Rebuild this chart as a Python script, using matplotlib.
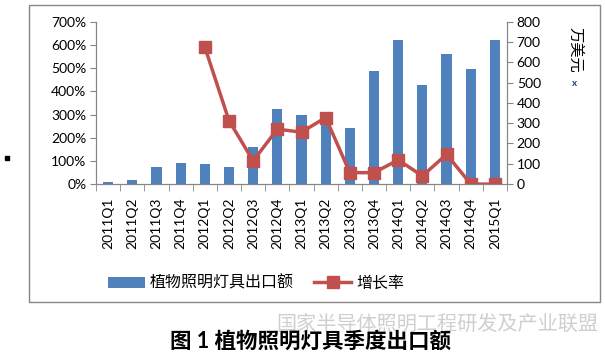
import numpy as np
import matplotlib.pyplot as plt
from matplotlib.patches import Rectangle

plt.rcParams['font.family'] = ['Lato', 'Noto Sans CJK SC', 'DejaVu Sans']

# 季度
quarters = ['2011Q1', '2011Q2', '2011Q3', '2011Q4',
            '2012Q1', '2012Q2', '2012Q3', '2012Q4',
            '2013Q1', '2013Q2', '2013Q3', '2013Q4',
            '2014Q1', '2014Q2', '2014Q3', '2014Q4', '2015Q1']
# 出口额（万美元）
export_value = [11, 20, 85, 105, 100, 85, 184, 372, 341, 345, 277, 559,
                713, 490, 644, 569, 713]
# 增长率（%）
growth = [np.nan, np.nan, np.nan, np.nan, 592, 274, 100, 237, 224, 287,
          49, 49, 104, 35, 128, 0, -1]

bar_color = '#4F81BD'
line_color = '#C0504D'
grey = '#868686'

fig = plt.figure(figsize=(6.05, 3.58), dpi=100)

# 外框
fig.patches.append(Rectangle((29 / 605, 1 - 302 / 358), 571 / 605, 297 / 358,
                             transform=fig.transFigure, fill=False,
                             edgecolor=grey, lw=1))
fig.patches.append(Rectangle((5 / 605, 1 - 160 / 358), 4 / 605, 4 / 358,
                             transform=fig.transFigure, color='black'))

ax = fig.add_axes([96 / 605, 1 - 184 / 358, 411 / 605, 162 / 358])
ax_bar = ax.twinx()
ax.set_zorder(2)
ax.patch.set_visible(False)
ax_bar.set_zorder(1)

x = np.arange(len(quarters))
bars = ax_bar.bar(x, export_value, width=0.42, color=bar_color,
                  label='植物照明灯具出口额')
line, = ax.plot(x, growth, color=line_color, lw=2.5, marker='s',
                markersize=9, label='增长率')

ax.set_xlim(-0.5, len(quarters) - 0.5)
ax.set_ylim(0, 700)
ax_bar.set_ylim(0, 800)
ax.set_yticks(np.arange(0, 701, 100))
ax.set_yticklabels([f'{v}%' for v in range(0, 701, 100)])
ax_bar.set_yticks(np.arange(0, 801, 100))

ax.set_xticks(x)
ax.set_xticklabels(quarters, rotation=90, fontsize=10)
ax.set_xticks(np.arange(-0.5, len(quarters), 1), minor=True)
ax.tick_params(axis='x', which='major', length=0, pad=10)
ax.tick_params(axis='x', which='minor', length=5, color=grey)
ax.tick_params(axis='y', labelsize=10, length=4, color=grey, pad=3)
ax_bar.tick_params(axis='y', labelsize=10, length=4, color=grey, pad=3)

for a in (ax, ax_bar):
    a.spines['top'].set_visible(False)
    for s in ('left', 'right', 'bottom'):
        a.spines[s].set_color(grey)

ax_bar.text(1.165, 0.83, '万美元', rotation=-90, transform=ax_bar.transAxes,
            fontsize=11, ha='center', va='center')
ax_bar.text(1.165, 0.62, 'x', transform=ax_bar.transAxes, fontsize=7,
            ha='center', va='center', color='#1F3A6E', fontweight='bold')

fig.legend(handles=[bars, line], loc='center', ncol=2, frameon=False,
           bbox_to_anchor=(256 / 605, 1 - 283 / 358), fontsize=11.5,
           handlelength=2.3, columnspacing=1.3, handletextpad=0.3)

fig.text(437 / 605, 1 - 323 / 358, '国家半导体照明工程研发及产业联盟',
         fontsize=14.5, color='#cfcfcf', ha='center', va='center')
fig.text(310 / 605, 1 - 341 / 358, '图 1 植物照明灯具季度出口额',
         fontsize=15.5, fontweight='bold', ha='center', va='center')

fig.savefig('out.png', dpi=100)
